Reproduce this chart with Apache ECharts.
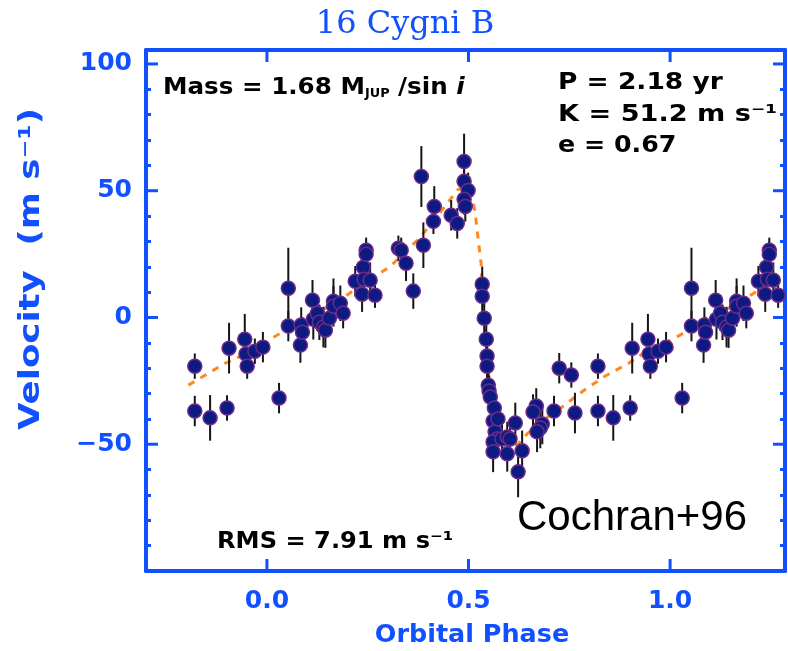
<!DOCTYPE html>
<html>
<head>
<meta charset="utf-8">
<script src="https://cdn.jsdelivr.net/npm/echarts@6/dist/echarts.min.js"></script>
<style>
  html, body { margin: 0; padding: 0; background: #ffffff; }
  #chart { width: 788px; height: 651px; }
</style>
</head>
<body>
<div id="chart"></div>
<script>
// Radial-velocity measurements folded on the orbital period (one cycle, phase 0..1)
const phase = [
  0.030, 0.053, 0.053, 0.083, 0.085, 0.088, 0.113, 0.115, 0.125, 0.130,
  0.140, 0.145, 0.155, 0.165, 0.165, 0.182, 0.189, 0.219, 0.236, 0.239,
  0.241, 0.246, 0.246, 0.256, 0.268, 0.326, 0.333, 0.345, 0.363, 0.383,
  0.388, 0.413, 0.415, 0.457, 0.472, 0.489, 0.489, 0.499, 0.489, 0.492,
  0.534, 0.534, 0.539, 0.544, 0.546, 0.546, 0.549, 0.551, 0.554, 0.561,
  0.564, 0.566, 0.571, 0.561, 0.573, 0.583, 0.596, 0.603, 0.561, 0.596,
  0.616, 0.633, 0.623, 0.668, 0.660, 0.683, 0.678, 0.670, 0.712, 0.725,
  0.755, 0.764, 0.821, 0.821, 0.859, 0.901, 0.906, 0.945, 0.948, 0.951,
  0.970, 0.990
];
const velocity = [
  -31.8, 11.5, -3.4, -10.9, -3.0, -5.8, 6.8, -0.7, 1.7, -1.9,
  -3.8, -5.0, -0.3, 6.4, 4.4, 5.6, 1.7, 14.3, 9.2, 19.8,
  15.1, 26.5, 24.9, 14.7, 8.8, 27.3, 26.5, 21.4, 10.4, 55.6,
  28.5, 37.9, 43.8, 40.3, 37.1, 61.5, 53.7, 50.1, 46.6, 43.8,
  13.1, 8.4, -0.3, -8.6, -15.2, -19.2, -26.7, -29.0, -31.4, -40.8,
  -35.7, -45.1, -47.9, -49.1, -40.0, -47.9, -47.1, -47.9, -53.0, -53.8,
  -41.6, -52.6, -60.9, -34.9, -37.3, -42.0, -43.6, -45.1, -36.9, -20.0,
  -22.7, -37.7, -19.2, -36.9, -39.6, -35.7, -12.1, -8.6, -14.4, -19.2,
  -13.3, -11.7
];
const sigma = [
  6, 16, 6, 7, 7, 6, 8, 8, 7, 7,
  8, 7, 6, 9, 8, 7, 6, 6, 7, 8,
  7, 5, 5, 7, 5, 5, 5, 7, 7, 12,
  9, 5, 8, 6, 6, 11, 8, 7, 6, 6,
  7, 6, 6, 6, 6, 6, 6, 6, 6, 6,
  6, 7, 7, 7, 6, 7, 6, 6, 8, 7,
  8, 8, 10, 7, 7, 8, 8, 8, 6, 6,
  5, 8, 5, 6, 9, 5, 10, 10, 5, 5,
  5, 6
];

// Keplerian fit (P = 2.18 yr, K = 51.2 m/s, e = 0.67) traced over the plotted phase range
const fitPhase = [
  -0.195, -0.103, -0.024, 0.016, 0.144, 0.194, 0.276, 0.306, 0.355, 0.380,
  0.430, 0.474, 0.494, 0.509, 0.516, 0.521, 0.526, 0.531, 0.536, 0.541,
  0.546, 0.549, 0.559, 0.571, 0.591, 0.608, 0.623, 0.648, 0.697, 0.732,
  0.784, 0.839, 0.898, 0.931, 1.015, 1.144, 1.204, 1.285
];
const fitVelocity = [
  -26.7, -18.0, -12.5, -7.8, 3.6, 8.4, 17.0, 20.2, 27.7, 31.6,
  41.5, 50.5, 51.3, 47.4, 41.9, 34.8, 28.1, 21.8, 6.0, -5.4,
  -12.1, -21.5, -32.2, -42.0, -48.7, -50.7, -49.9, -45.5, -39.2, -35.3,
  -29.0, -23.1, -18.0, -14.4, -7.8, 3.6, 9.2, 17.8
];

// Axis ticks and labels
const xTickValues = [0.0, 0.5, 1.0];
const yTickValues = [-50, 0, 50, 100];
const yMinorValues = [-90, -80, -70, -60, -40, -30, -20, -10, 10, 20, 30, 40, 60, 70, 80, 90];

const BLUE = '#1150ff';
const X_MIN = -0.3, X_MAX = 1.285;
const Y_MIN = -100, Y_MAX = 105.5;
const SHOW_FROM = -0.2, SHOW_TO = 1.29;
const MAJOR_LEN = 12;

// Each measurement is drawn at its phase and repeated one cycle earlier / later
const points = [];
const bars = [];
for (const shift of [-1, 0, 1]) {
  for (let i = 0; i < phase.length; i++) {
    const p = phase[i] + shift;
    if (p < SHOW_FROM || p > SHOW_TO) continue;
    points.push([p, velocity[i]]);
    bars.push([p, velocity[i] - sigma[i], velocity[i] + sigma[i]]);
  }
}
const fitLine = fitPhase.map((p, i) => [p, fitVelocity[i]]);

const tickFont = { fontFamily: 'DejaVu Sans', fontWeight: 'bold', fontSize: 25, color: BLUE };
const tickLine = { color: BLUE, width: 3 };

// Frame axes: thick blue line plus tick labels
function frameAxis(position, min, max, showLabels, labelValues, fmt, margin) {
  return {
    type: 'value', position: position, min: min, max: max,
    axisLine: { show: true, onZero: false, lineStyle: { color: BLUE, width: 4 } },
    axisTick: { show: false },
    axisLabel: Object.assign({ show: showLabels, margin: margin, customValues: labelValues,
                formatter: fmt }, tickFont),
    splitLine: { show: false }
  };
}
// Minor tick axes (no line, no labels)
function minorAxis(position) {
  return {
    type: 'value', position: position, min: Y_MIN, max: Y_MAX,
    axisLine: { show: false, onZero: false },
    axisTick: { show: true, inside: true, length: 5, customValues: yMinorValues, lineStyle: tickLine },
    axisLabel: { show: false },
    splitLine: { show: false }
  };
}

const xFmt = v => v.toFixed(1);
const yFmt = v => (v < 0 ? '\u2212' + Math.abs(v) : String(v));

// Major inward ticks on all four sides of the frame, placed through the axis scales
function renderMajorTicks(params, api) {
  const cs = params.coordSys;
  const left = cs.x, right = cs.x + cs.width, top = cs.y, bottom = cs.y + cs.height;
  const children = [];
  const seg = (x1, y1, x2, y2) => children.push({
    type: 'line', shape: { x1, y1, x2, y2 }, style: { stroke: BLUE, lineWidth: 3 }
  });
  xTickValues.forEach(v => {
    const px = api.coord([v, Y_MIN])[0];
    seg(px, bottom, px, bottom - MAJOR_LEN);
    seg(px, top, px, top + MAJOR_LEN);
  });
  yTickValues.forEach(v => {
    const py = api.coord([X_MIN, v])[1];
    seg(left, py, left + MAJOR_LEN, py);
    seg(right, py, right - MAJOR_LEN, py);
  });
  return { type: 'group', children };
}

const annFont = 'bold 23px "DejaVu Sans"';
const chart = echarts.init(document.getElementById('chart'), null, { renderer: 'canvas' });
chart.setOption({
  animation: false,
  backgroundColor: '#ffffff',
  grid: { left: 146, right: 3, top: 50, bottom: 80, containLabel: false, outerBoundsMode: 'none' },
  xAxis: [
    frameAxis('bottom', X_MIN, X_MAX, true, xTickValues, xFmt, 18),
    frameAxis('top', X_MIN, X_MAX, false, xTickValues, xFmt, 18)
  ],
  yAxis: [
    frameAxis('left', Y_MIN, Y_MAX, true, yTickValues, yFmt, 14),
    frameAxis('right', Y_MIN, Y_MAX, false, yTickValues, yFmt, 14),
    minorAxis('left'),
    minorAxis('right')
  ],
  series: [
    {
      type: 'line', data: fitLine, showSymbol: false, silent: true, z: 2,
      lineStyle: { color: '#ff8a1c', width: 3, type: [7, 7] }
    },
    {
      type: 'custom', data: bars, silent: true, z: 3, clip: true,
      encode: { x: 0, y: [1, 2] },
      renderItem: function (params, api) {
        const a = api.coord([api.value(0), api.value(1)]);
        const b = api.coord([api.value(0), api.value(2)]);
        return { type: 'line', shape: { x1: a[0], y1: a[1], x2: b[0], y2: b[1] },
                 style: { stroke: '#151515', lineWidth: 2 } };
      }
    },
    {
      type: 'scatter', data: points, silent: true, z: 4,
      symbol: 'circle', symbolSize: 14,
      itemStyle: { color: '#0c1a82', borderColor: '#6a2c88', borderWidth: 1.5, opacity: 1 }
    },
    {
      type: 'custom', data: [[0, 0]], silent: true, z: 5, clip: false,
      renderItem: renderMajorTicks
    }
  ],
  graphic: [
    { type: 'text', x: 405, y: 25, silent: true,
      style: { text: '16 Cygni B', font: '32px "DejaVu Serif"', fill: BLUE,
               textAlign: 'center', textVerticalAlign: 'middle' } },
    { type: 'text', x: 32, y: 269, rotation: Math.PI / 2, scaleX: 1.27, silent: true,
      style: { text: 'Velocity  (m s\u207B\u00B9)', font: 'bold 28px "DejaVu Sans"', fill: BLUE,
               textAlign: 'center', textVerticalAlign: 'middle' } },
    { type: 'text', x: 472, y: 636, scaleX: 1.06, silent: true,
      style: { text: 'Orbital Phase', font: 'bold 24px "DejaVu Sans"', fill: BLUE,
               textAlign: 'center', textVerticalAlign: 'middle' } },
    { type: 'text', x: 163, y: 88, scaleX: 1.07, silent: true,
      style: { text: '{t|Mass = 1.68 M}{sub|JUP}{t| /sin }{it|i}',
               textAlign: 'left', textVerticalAlign: 'middle',
               rich: { t: { font: annFont, fill: '#000' },
                       sub: { font: 'bold 12px "DejaVu Sans"', fill: '#000', verticalAlign: 'bottom' },
                       it: { font: 'italic bold 23px "DejaVu Sans"', fill: '#000' } } } },
    { type: 'text', x: 558, y: 83, scaleX: 1.15, silent: true,
      style: { text: 'P = 2.18 yr', font: annFont, fill: '#000', textAlign: 'left', textVerticalAlign: 'middle' } },
    { type: 'text', x: 558, y: 115, scaleX: 1.18, silent: true,
      style: { text: 'K = 51.2 m s\u207B\u00B9', font: annFont, fill: '#000', textAlign: 'left', textVerticalAlign: 'middle' } },
    { type: 'text', x: 558, y: 146, scaleX: 1.1, silent: true,
      style: { text: 'e = 0.67', font: annFont, fill: '#000', textAlign: 'left', textVerticalAlign: 'middle' } },
    { type: 'text', x: 217, y: 542, scaleX: 1.05, silent: true,
      style: { text: 'RMS = 7.91 m s\u207B\u00B9', font: annFont, fill: '#000', textAlign: 'left', textVerticalAlign: 'middle' } },
    { type: 'text', x: 517, y: 518, silent: true,
      style: { text: 'Cochran+96', font: '42px "Liberation Sans"', fill: '#000', textAlign: 'left', textVerticalAlign: 'middle' } }
  ]
});
</script>
</body>
</html>
